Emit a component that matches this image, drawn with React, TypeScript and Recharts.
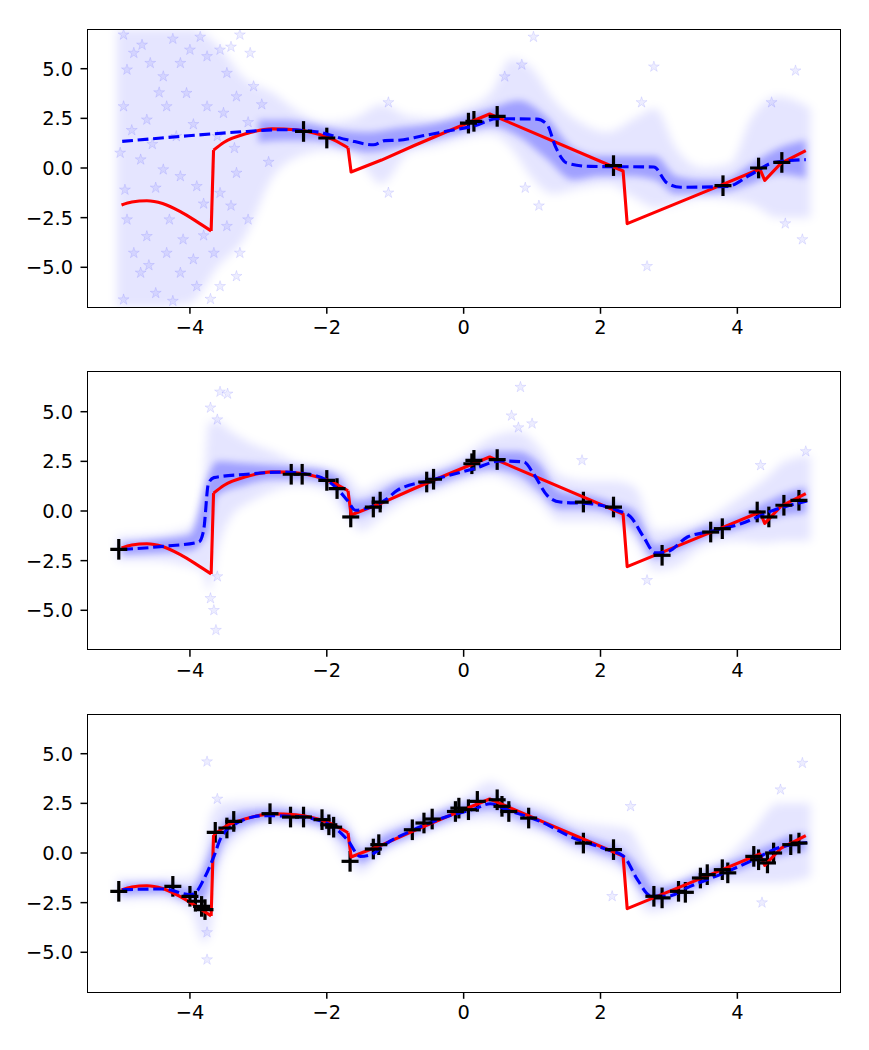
import React from "react";
import { ComposedChart, Area, Line, Scatter, ErrorBar, XAxis, YAxis } from "recharts";

// true function (red), shared by all three panels; two curved pieces and a piecewise-linear tail
const TRUE_A: [number, number][] = [
  [-5.0, -1.86], [-4.85, -1.71], [-4.63, -1.65], [-4.4, -1.79], [-4.14, -2.2], [-3.9, -2.7], [-3.69, -3.17],
];
const TRUE_B: [number, number][] = [
  [-3.655, 0.9], [-3.5, 1.3], [-3.17, 1.74], [-2.8, 1.97], [-2.45, 1.93], [-2.19, 1.76], [-1.9, 1.42], [-1.69, 1.02],
];
const TRUE_C: [number, number][] = [
  [-1.69, 1.02], [-1.645, -0.2], [-1.2, 0.4], [-0.73, 1.12], [-0.24, 1.84], [0.38, 2.72],
  [2.33, -0.15], [2.39, -2.8], [3.7, -0.95], [4.33, -0.05], [4.4, -0.62], [4.64, 0.25], [5.0, 0.88],
];

// GP mean (blue dashed) for each panel
const MEAN_1: [number, number][] = [
  [-4.99, 1.34], [-4.14, 1.59], [-3.17, 1.84], [-2.68, 1.93], [-2.19, 1.84], [-1.7, 1.42], [-1.32, 1.17],
  [-1.15, 1.38], [-0.95, 1.4], [-0.6, 1.62], [-0.24, 1.86], [0.15, 2.12], [0.49, 2.48], [1.07, 2.46],
  [1.22, 2.18], [1.34, 1.09], [1.51, 0.25], [1.85, 0.08], [2.78, 0.05], [2.97, -0.75], [3.17, -0.97],
  [3.85, -0.93], [4.19, -0.34], [4.53, 0.28], [4.78, 0.38], [5.0, 0.42],
];
const MEAN_2: [number, number][] = [
  [-4.99, -1.94], [-4.39, -1.78], [-3.87, -1.56], [-3.8, -0.97], [-3.73, 1.38], [-3.65, 1.68], [-3.17, 1.85],
  [-2.68, 1.96], [-2.19, 1.8], [-1.9, 1.29], [-1.7, 0.54], [-1.58, 0.04], [-1.36, 0.2], [-1.12, 0.62],
  [-0.97, 1.04], [-0.49, 1.54], [0.15, 2.13], [0.54, 2.52], [0.88, 2.47], [1.02, 1.88], [1.22, 0.79],
  [1.41, 0.45], [1.85, 0.37], [2.24, 0.04], [2.44, -0.3], [2.63, -1.31], [2.8, -2.11], [2.97, -2.06],
  [3.27, -1.31], [3.56, -1.06], [4.05, -0.64], [4.53, 0.04], [5.02, 0.5],
];
const MEAN_3: [number, number][] = [
  [-4.99, -1.85], [-4.39, -1.81], [-4.0, -2.1], [-3.9, -1.93], [-3.8, -1.34], [-3.65, -0.17], [-3.56, 0.67],
  [-3.36, 1.42], [-2.92, 1.88], [-2.44, 1.84], [-1.95, 1.42], [-1.7, 0.67], [-1.51, -0.17], [-1.36, -0.09],
  [-1.12, 0.5], [-0.73, 1.17], [-0.24, 1.84], [0.15, 2.21], [0.39, 2.48], [0.63, 2.18], [1.12, 1.59],
  [1.61, 0.75], [2.1, 0.17], [2.34, -0.17], [2.54, -1.34], [2.73, -2.15], [2.97, -2.18], [3.31, -1.68],
  [3.8, -1.01], [4.29, -0.25], [4.53, 0.17], [5.02, 0.53],
];

// training points (black +)
const OBS_1: [number, number][] = [
  [-2.34, 1.84], [-2.0, 1.51], [0.07, 2.26], [0.15, 2.35], [0.49, 2.6], [2.19, 0.12], [3.79, -0.89],
  [4.31, 0.0], [4.65, 0.28],
];
const OBS_2: [number, number][] = [
  [-5.04, -1.93], [-2.52, 1.85], [-2.36, 1.85], [-2.0, 1.54], [-1.85, 1.13], [-1.65, -0.3], [-1.32, 0.2],
  [-1.22, 0.45], [-0.54, 1.46], [-0.44, 1.6], [0.12, 2.38], [0.15, 2.55], [0.49, 2.59], [1.75, 0.45],
  [2.19, 0.2], [2.9, -2.23], [3.61, -1.06], [3.78, -0.89], [4.29, -0.05], [4.46, -0.3], [4.68, 0.29],
  [4.9, 0.54],
];
const OBS_3: [number, number][] = [
  [-5.04, -1.93], [-4.25, -1.68], [-4.0, -2.18], [-3.92, -2.43], [-3.83, -2.69], [-3.78, -2.85],
  [-3.63, 1.04], [-3.46, 1.26], [-3.36, 1.59], [-2.83, 1.98], [-2.53, 1.81], [-2.34, 1.81], [-2.07, 1.68],
  [-1.97, 1.42], [-1.9, 1.3], [-1.66, -0.42], [-1.32, 0.2], [-1.24, 0.42], [-0.75, 1.17], [-0.58, 1.51],
  [-0.46, 1.71], [-0.12, 2.09], [-0.07, 2.26], [0.07, 2.18], [0.2, 2.6], [0.49, 2.68], [0.56, 2.35],
  [0.66, 2.09], [0.95, 1.76], [1.75, 0.5], [2.19, 0.17], [2.78, -2.18], [2.9, -2.26], [3.14, -1.93],
  [3.24, -1.98], [3.46, -1.26], [3.56, -1.09], [3.78, -0.84], [3.86, -1.0], [4.24, -0.17], [4.31, -0.34],
  [4.44, -0.5], [4.53, 0.0], [4.78, 0.42], [4.9, 0.5],
];
const OBS_ERR = 0.52;

// posterior sample cloud: faint outer envelope [x, lo, hi]
const CLOUD_OUT_1: [number, number, number][] = [
  [-5.07, -7, 7], [-4.5, -7, 7], [-4.0, -6.8, 7], [-3.6, -5, 6.2], [-3.2, -3.5, 4.5], [-2.8, -0.5, 3.8],
  [-2.4, 0.6, 2.8], [-2.0, 0.9, 2.3], [-1.6, 0.6, 2.5], [-1.2, -0.8, 3.2], [-0.8, 0.8, 2.6],
  [-0.4, 1.1, 2.5], [0.0, 1.5, 3.0], [0.4, 1.7, 3.8], [0.7, 1.0, 5.5], [1.0, -0.5, 5.0], [1.3, -1.3, 3.5],
  [1.7, -1.0, 2.3], [2.1, -0.8, 1.8], [2.5, -1.5, 2.5], [2.8, -2.0, 3.0], [3.1, -1.8, 1.0],
  [3.5, -1.5, 0.0], [3.9, -1.6, 0.2], [4.2, -1.8, 2.5], [4.6, -2.5, 3.6], [5.07, -2.5, 3.0],
];
// denser core
const CLOUD_IN_1: [number, number, number][] = [
  [-3.0, 1.3, 2.4], [-2.6, 1.4, 2.4], [-2.2, 1.4, 2.2], [-1.8, 1.1, 1.9], [-1.4, 0.8, 1.8],
  [-1.0, 1.0, 2.0], [-0.5, 1.4, 2.2], [0.0, 1.8, 2.6], [0.4, 2.1, 3.0], [0.8, 1.6, 3.4], [1.2, 0.5, 2.6],
  [1.6, -0.6, 1.0], [2.0, -0.4, 0.6], [2.4, -0.4, 0.6], [2.8, -0.6, 0.6], [3.1, -1.3, -0.4],
  [3.5, -1.3, -0.6], [3.8, -1.2, -0.6], [4.2, -0.8, 0.2], [4.6, -0.3, 1.0], [5.0, -0.5, 1.4],
];
const CLOUD_OUT_2: [number, number, number][] = [
  [-5.07, -2.5, -1.3], [-4.5, -2.5, -1.2], [-4.0, -2.8, -0.8], [-3.82, -3.0, 0.5], [-3.72, -4.0, 4.5],
  [-3.6, -2.0, 4.5], [-3.4, -0.3, 4.0], [-3.1, 0.5, 3.4], [-2.8, 1.0, 3.0], [-2.4, 1.3, 2.4], [-2.0, 1.0, 2.2],
  [-1.7, -0.3, 1.8], [-1.5, -1.0, 1.0], [-1.2, -0.3, 1.5], [-0.8, 0.6, 1.9], [-0.4, 1.0, 2.2],
  [0.0, 1.5, 2.8], [0.4, 1.8, 3.7], [0.8, 1.2, 4.0], [1.1, 0.5, 3.2], [1.4, -0.5, 1.8], [1.8, -0.5, 1.5],
  [2.2, -0.6, 1.5], [2.5, -1.5, 1.2], [2.8, -3.0, -1.0], [3.1, -2.8, -0.9], [3.5, -1.8, -0.5],
  [4.0, -1.5, 0.6], [4.4, -1.6, 1.6], [4.7, -1.5, 2.5], [5.07, -1.5, 2.8],
];
const CLOUD_IN_2: [number, number, number][] = [
  [-5.0, -2.2, -1.6], [-4.4, -2.1, -1.4], [-4.0, -2.0, -1.2], [-3.75, -1.2, 1.6], [-3.6, 0.8, 2.5],
  [-3.2, 1.3, 2.4], [-2.8, 1.6, 2.3], [-2.4, 1.6, 2.2], [-2.0, 1.4, 2.0], [-1.8, 0.9, 1.6],
  [-1.6, -0.3, 0.5], [-1.4, -0.1, 0.6], [-1.0, 0.7, 1.4], [-0.5, 1.2, 1.8], [0.0, 1.8, 2.4],
  [0.4, 2.1, 3.0], [0.8, 1.8, 3.0], [1.1, 1.0, 2.4], [1.4, 0.1, 1.0], [1.8, 0.1, 0.8], [2.2, -0.2, 0.4],
  [2.5, -1.0, 0.0], [2.8, -2.4, -1.7], [3.1, -2.0, -1.4], [3.5, -1.4, -0.8], [4.0, -0.9, -0.3],
  [4.4, -0.5, 0.4], [4.7, -0.2, 0.9], [5.0, -0.1, 1.2],
];
const CLOUD_OUT_3: [number, number, number][] = [
  [-5.07, -2.4, -1.3], [-4.5, -2.3, -1.3], [-4.0, -2.9, -1.2], [-3.8, -4.5, 0.0], [-3.7, -4.0, 1.8],
  [-3.55, -0.5, 2.5], [-3.2, 1.0, 2.6], [-2.8, 1.5, 2.6], [-2.4, 1.4, 2.3], [-2.0, 1.0, 2.2],
  [-1.7, -0.5, 1.6], [-1.5, -1.0, 0.6], [-1.2, -0.1, 1.2], [-0.8, 0.6, 1.7], [-0.4, 1.2, 2.2],
  [0.0, 1.6, 2.8], [0.4, 1.7, 3.6], [0.8, 1.3, 2.7], [1.2, 0.9, 2.3], [1.6, 0.1, 1.6], [2.0, -0.4, 1.4],
  [2.4, -1.2, 1.2], [2.7, -3.0, -0.5], [3.0, -2.8, -1.5], [3.4, -2.2, -0.9], [3.8, -1.5, -0.3],
  [4.2, -1.5, 1.0], [4.6, -1.5, 2.5], [5.07, -1.2, 2.5],
];
const CLOUD_IN_3: [number, number, number][] = [
  [-5.0, -2.1, -1.6], [-4.4, -2.0, -1.5], [-4.0, -2.4, -1.8], [-3.8, -2.3, -0.8], [-3.65, -0.8, 0.6],
  [-3.5, 0.6, 1.6], [-3.2, 1.4, 2.1], [-2.8, 1.7, 2.2], [-2.4, 1.6, 2.1], [-2.0, 1.2, 1.8],
  [-1.7, 0.4, 1.1], [-1.5, -0.5, 0.1], [-1.2, 0.2, 0.8], [-0.8, 0.8, 1.4], [-0.4, 1.4, 2.0],
  [0.0, 1.9, 2.5], [0.4, 2.2, 2.8], [0.8, 1.7, 2.3], [1.2, 1.2, 1.8], [1.6, 0.5, 1.1], [2.0, 0.0, 0.6],
  [2.3, -0.5, 0.2], [2.6, -1.9, -0.9], [2.8, -2.5, -1.8], [3.2, -2.0, -1.4], [3.6, -1.4, -0.8],
  [4.0, -0.9, -0.3], [4.4, -0.4, 0.3], [4.8, 0.0, 0.9], [5.0, 0.1, 1.0],
];

// individually visible sample stars
const STARS_1: [number, number][] = [
  [-4.97, 6.71], [-4.82, 5.79], [-4.92, 4.95], [-4.58, 5.28], [-4.39, 4.61], [-4.14, 5.28], [-4.0, 5.95],
  [-3.75, 5.62], [-3.56, 5.95], [-3.46, 4.78], [-3.27, 6.71], [-3.12, 5.79], [-3.07, 4.11], [-4.97, 3.1],
  [-4.63, 2.43], [-4.34, 3.1], [-4.05, 3.77], [-3.75, 3.1], [-3.51, 2.77], [-3.32, 3.6], [-5.02, 0.76],
  [-4.72, 0.42], [-4.39, -0.08], [-4.14, -0.42], [-3.9, -0.92], [-3.56, -1.26], [-3.32, -0.25],
  [-4.92, -2.6], [-4.63, -3.44], [-4.34, -4.28], [-4.82, -4.28], [-4.72, -5.28], [-4.5, -6.3],
  [-4.14, -5.28], [-3.9, -5.96], [-3.65, -4.28], [-3.56, -5.96], [-3.32, -5.45], [-4.97, -6.63],
  [-3.27, -4.28], [-3.46, -2.93], [-4.7, 6.2], [-4.25, 6.5], [-3.85, 6.6], [-3.4, 6.1], [-4.45, 3.8],
  [-3.95, 2.2], [-3.6, 1.6], [-4.85, 1.9], [-4.55, 1.2], [-4.2, 1.6], [-3.35, 1.0], [-3.15, 2.3],
  [-2.95, 3.2], [-2.85, 0.3], [-4.95, -1.1], [-4.5, -1.0], [-4.3, -2.6], [-3.8, -1.8], [-3.4, -1.9],
  [-3.15, -2.6], [-4.1, -3.6], [-3.8, -3.4], [-4.6, -4.9], [-3.7, -6.6], [-4.25, -6.7], [-3.95, -4.6],
  [1.02, 6.6], [0.85, 5.2], [2.78, 5.1], [2.68, -4.95], [2.6, 3.3], [4.85, 4.9], [4.95, -3.6],
  [4.7, -2.8], [1.1, -1.9], [0.9, -1.0], [-1.1, -1.25], [-1.1, 3.3], [4.5, 3.3], [0.6, 4.6],
];
const STARS_2: [number, number][] = [
  [-3.56, 6.0], [-3.7, 5.2], [-3.45, 5.9], [-3.6, 4.6], [-3.62, -6.0], [-3.7, -4.4], [-3.6, -3.3],
  [-3.65, -5.0], [0.83, 6.24], [0.7, 4.8], [0.8, 4.2], [1.0, 4.4], [2.68, -3.49], [1.73, 2.55],
  [4.34, 2.3], [5.0, 3.0],
];
const STARS_3: [number, number][] = [
  [-3.75, 4.6], [-3.6, 2.72], [-3.75, -5.37], [-3.75, -4.0], [4.95, 4.53], [4.63, 3.19], [2.44, 2.35],
  [2.17, -2.18], [4.36, -2.5],
];

const X_TICKS = [-4, -2, 0, 2, 4];
const Y_TICKS = [-5, -2.5, 0, 2.5, 5];

const BOX_TOPS = [29.3, 371.7, 714.3];
const BOX_LEFT = 87.3;
const BOX_W = 752.7;
const BOX_H = 278;
const MT = 10;
const SPINE = 1.5;

const minus = (s: string) => s.replace("-", "\u2212");
const fmtX = (v: number) => minus(String(v));
const fmtY = (v: number) => minus(v.toFixed(1));

const pts = (a: [number, number][]) => a.map(([x, y]) => ({ x, y }));
const band = (a: [number, number, number][]) => a.map(([x, lo, hi]) => ({ x, r: [lo, hi] }));
const JUMP = [TRUE_A[TRUE_A.length - 1], TRUE_B[0]];

function starPath(cx: number, cy: number, R: number) {
  const r = R * 0.382;
  let d = "";
  for (let i = 0; i < 10; i++) {
    const a = -Math.PI / 2 + (i * Math.PI) / 5;
    const rad = i % 2 === 0 ? R : r;
    d += (i === 0 ? "M" : "L") + (cx + rad * Math.cos(a)).toFixed(2) + "," + (cy + rad * Math.sin(a)).toFixed(2);
  }
  return d + "Z";
}

const StarShape = (p: any) => (
  <path d={starPath(p.cx, p.cy, 5.8)} fill="#0000ff" fillOpacity={0.07} stroke="#0000ff" strokeOpacity={0.09} strokeWidth={1} />
);

const PlusShape = (p: any) => (
  <line x1={p.cx - 8.5} x2={p.cx + 8.5} y1={p.cy} y2={p.cy} stroke="#000" strokeWidth={3.2} />
);

const tickStyle = { fontFamily: "DejaVu Sans", fontSize: 19.4, fill: "#000" };
const tickLine = { stroke: "#000", strokeWidth: SPINE };

interface PanelProps {
  id: string;
  top: number;
  mean: [number, number][];
  obs: [number, number][];
  outer: [number, number, number][];
  inner: [number, number, number][];
  stars: [number, number][];
}

function Panel({ id, top, mean, obs, outer, inner, stars }: PanelProps) {
  const obsData = obs.map(([x, y]) => ({ x, y, e: OBS_ERR }));
  const red = { stroke: "#ff0000", strokeWidth: 3.1, strokeLinejoin: "round" as const, dot: false, isAnimationActive: false };
  return (
    <div style={{ position: "absolute", left: 0, top: top - MT }}>
      <ComposedChart width={869} height={MT + BOX_H + 36} margin={{ top: MT, right: 869 - BOX_LEFT - BOX_W, bottom: 0, left: 0 }}>
        <defs>
          <filter id={`soft-${id}`} x="-20%" y="-20%" width="140%" height="140%">
            <feGaussianBlur stdDeviation="3.5" />
          </filter>
          <filter id={`softer-${id}`} x="-20%" y="-20%" width="140%" height="140%">
            <feGaussianBlur stdDeviation="5" />
          </filter>
        </defs>
        <XAxis
          type="number"
          dataKey="x"
          domain={[-5.5, 5.5]}
          ticks={X_TICKS}
          tickFormatter={fmtX}
          axisLine={false}
          tickLine={tickLine}
          tickSize={6.8}
          tickMargin={6.8}
          height={36}
          tick={tickStyle}
          allowDataOverflow
        />
        <YAxis
          type="number"
          domain={[-7, 7]}
          ticks={Y_TICKS}
          tickFormatter={fmtY}
          axisLine={false}
          tickLine={tickLine}
          tickSize={6.8}
          tickMargin={7.5}
          width={BOX_LEFT}
          tick={tickStyle}
          allowDataOverflow
        />
        <Area data={band(outer)} dataKey="r" type="monotone" stroke="none" fill="#0000ff" fillOpacity={0.1} filter={`url(#softer-${id})`} isAnimationActive={false} />
        <Area data={band(inner)} dataKey="r" type="monotone" stroke="none" fill="#0000ff" fillOpacity={0.3} filter={`url(#soft-${id})`} isAnimationActive={false} />
        <Scatter data={pts(stars)} dataKey="y" shape={StarShape} isAnimationActive={false} />
        <Scatter data={obsData} dataKey="y" shape={PlusShape} isAnimationActive={false}>
          <ErrorBar dataKey="e" direction="y" width={0} stroke="#000" strokeWidth={3.2} />
        </Scatter>
        <Line data={pts(TRUE_A)} dataKey="y" type="monotone" {...red} />
        <Line data={pts(JUMP)} dataKey="y" type="linear" {...red} />
        <Line data={pts(TRUE_B)} dataKey="y" type="monotone" {...red} />
        <Line data={pts(TRUE_C)} dataKey="y" type="linear" {...red} />
        <Line data={pts(mean)} dataKey="y" type="monotone" stroke="#0000ff" strokeWidth={3.1} strokeDasharray="10.8 4.7" dot={false} isAnimationActive={false} />
      </ComposedChart>
      <div
        style={{
          position: "absolute",
          left: BOX_LEFT - SPINE / 2,
          top: MT - SPINE / 2,
          width: BOX_W + SPINE,
          height: BOX_H + SPINE,
          border: `${SPINE}px solid #000`,
          boxSizing: "border-box",
          pointerEvents: "none",
        }}
      />
    </div>
  );
}

export default function App() {
  return (
    <div style={{ position: "absolute", left: 0, top: 0, width: 869, height: 1050, background: "#fff" }}>
      <Panel id="a" top={BOX_TOPS[0]} mean={MEAN_1} obs={OBS_1} outer={CLOUD_OUT_1} inner={CLOUD_IN_1} stars={STARS_1} />
      <Panel id="b" top={BOX_TOPS[1]} mean={MEAN_2} obs={OBS_2} outer={CLOUD_OUT_2} inner={CLOUD_IN_2} stars={STARS_2} />
      <Panel id="c" top={BOX_TOPS[2]} mean={MEAN_3} obs={OBS_3} outer={CLOUD_OUT_3} inner={CLOUD_IN_3} stars={STARS_3} />
    </div>
  );
}
